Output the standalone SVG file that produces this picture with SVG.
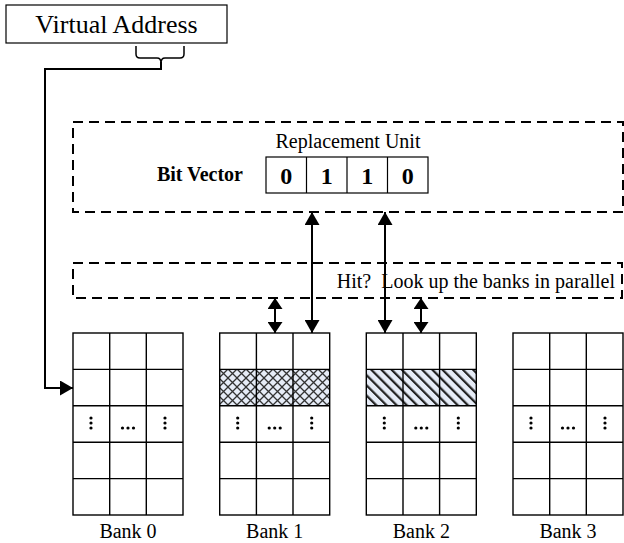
<svg xmlns="http://www.w3.org/2000/svg" width="624" height="543" viewBox="0 0 624 543">
<style>
.t{font-family:"Liberation Serif","Times New Roman",serif;fill:#000}
.grid{fill:none;stroke:#000;stroke-width:1.4}
.dash{fill:none;stroke:#000;stroke-width:2;stroke-dasharray:10,6}
.box{fill:#fff;stroke:#000;stroke-width:1.2}
.conn{fill:none;stroke:#000;stroke-width:2}
</style>
<defs>
<pattern id="cross" width="9" height="9" patternUnits="userSpaceOnUse" x="219" y="369">
<rect width="9" height="9" fill="#e6ecf7"/>
<path d="M0,0L9,9M9,0L0,9" stroke="#333" stroke-width="1.3"/>
</pattern>
<pattern id="diag" width="7.2" height="8" patternUnits="userSpaceOnUse" patternTransform="rotate(-45)">
<rect width="7.2" height="8" fill="#e6ecf7"/>
<rect width="2.2" height="8" fill="#222"/>
</pattern>
<marker id="ah" viewBox="0 0 13 15" refX="13" refY="7.5" markerWidth="13" markerHeight="15" markerUnits="userSpaceOnUse" orient="auto-start-reverse">
<path d="M0,0L13,7.5L0,15Z" fill="#000"/>
</marker>
<marker id="as" viewBox="0 0 11 15" refX="11" refY="7.5" markerWidth="11" markerHeight="15" markerUnits="userSpaceOnUse" orient="auto-start-reverse">
<path d="M0,0L11,7.5L0,15Z" fill="#000"/>
</marker>
<g id="dots">
<circle cx="18" cy="12" r="1.6"/><circle cx="18" cy="17" r="1.6"/><circle cx="18" cy="22" r="1.6"/>
<circle cx="49.5" cy="22" r="1.6"/><circle cx="55" cy="22" r="1.6"/><circle cx="60.5" cy="22" r="1.6"/>
<circle cx="92" cy="12" r="1.6"/><circle cx="92" cy="17" r="1.6"/><circle cx="92" cy="22" r="1.6"/>
</g>
<g id="gridlines">
<rect x="0" y="0" width="110" height="182" class="grid"/>
<path d="M36.7,0V182M73.3,0V182M0,36.4H110M0,72.8H110M0,109.2H110M0,145.6H110" class="grid"/>
</g>
</defs>

<g id="virtual-address">
<rect x="6" y="5" width="221" height="38" class="box"/>
<text x="116.5" y="33" class="t" font-size="26" text-anchor="middle">Virtual Address</text>
<path d="M136,46V54Q136,58 140,58H157Q161,58 161,63Q161,58 165,58H180Q184,58 184,54V46" fill="none" stroke="#000" stroke-width="1.5"/>
</g>

<g id="replacement-unit">
<rect x="73" y="122" width="550" height="90" class="dash"/>
<text x="348" y="148" class="t" font-size="20" text-anchor="middle">Replacement Unit</text>
<text x="243" y="181" class="t" font-size="20" font-weight="bold" text-anchor="end">Bit Vector</text>
<rect x="266" y="157" width="162" height="36" class="box"/>
<path d="M306.5,157V193M347,157V193M387.5,157V193" stroke="#000" stroke-width="1.2"/>
<text x="286.3" y="184" class="t" font-size="24" font-weight="bold" text-anchor="middle">0</text>
<text x="326.8" y="184" class="t" font-size="24" font-weight="bold" text-anchor="middle">1</text>
<text x="367.3" y="184" class="t" font-size="24" font-weight="bold" text-anchor="middle">1</text>
<text x="407.8" y="184" class="t" font-size="24" font-weight="bold" text-anchor="middle">0</text>
</g>

<g id="hit-lookup">
<rect x="73" y="263" width="549" height="35" class="dash"/>
<text x="615" y="288" class="t" font-size="20" text-anchor="end" xml:space="preserve">Hit?  Look up the banks in parallel</text>
</g>

<g id="bank0">
<use href="#gridlines" x="73" y="333"/>
<use href="#dots" x="73" y="406"/>
<text x="128" y="538" class="t" font-size="20" text-anchor="middle">Bank 0</text>
</g>
<g id="bank1">
<rect x="219.7" y="369.4" width="110" height="36.4" fill="url(#cross)"/>
<use href="#gridlines" x="219.7" y="333"/>
<use href="#dots" x="219.7" y="406"/>
<text x="274.7" y="538" class="t" font-size="20" text-anchor="middle">Bank 1</text>
</g>
<g id="bank2">
<rect x="366.3" y="369.4" width="110" height="36.4" fill="url(#diag)"/>
<use href="#gridlines" x="366.3" y="333"/>
<use href="#dots" x="366.3" y="406"/>
<text x="421.3" y="538" class="t" font-size="20" text-anchor="middle">Bank 2</text>
</g>
<g id="bank3">
<use href="#gridlines" x="513" y="333"/>
<use href="#dots" x="513" y="406"/>
<text x="568" y="538" class="t" font-size="20" text-anchor="middle">Bank 3</text>
</g>

<g id="connectors">
<path d="M161,62V69H45V388H73" class="conn" marker-end="url(#ah)"/>
<path d="M312,212V333" class="conn" marker-start="url(#ah)" marker-end="url(#ah)"/>
<path d="M385,212V333" class="conn" marker-start="url(#ah)" marker-end="url(#ah)"/>
<path d="M275,298V333" class="conn" marker-start="url(#as)" marker-end="url(#as)"/>
<path d="M421,298V333" class="conn" marker-start="url(#as)" marker-end="url(#as)"/>
</g>
</svg>
